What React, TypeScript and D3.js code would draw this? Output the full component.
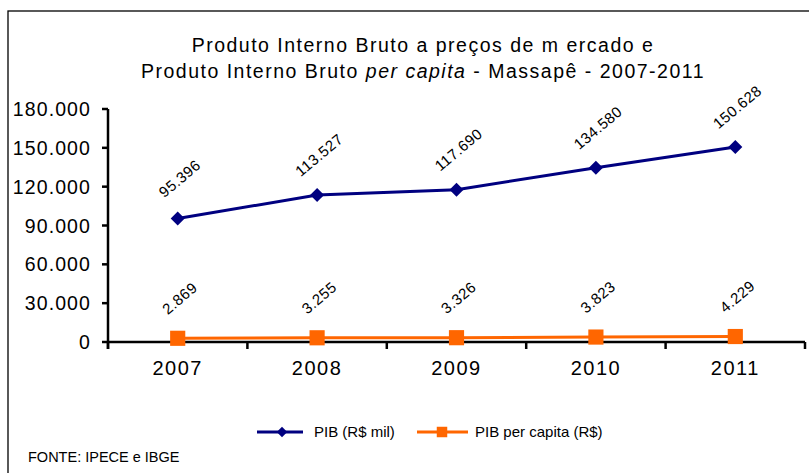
import React from "react";
import * as d3 from "d3";

// chart values
const years = ["2007", "2008", "2009", "2010", "2011"];
const pibMil = [95396, 113527, 117690, 134580, 150628];
const pibPerCapita = [2869, 3255, 3326, 3823, 4229];
const yTicks = [0, 30000, 60000, 90000, 120000, 150000, 180000];

const titleLine1 = "Produto Interno Bruto a preços de m ercado  e";
const source = "FONTE: IPECE e IBGE";

const locale = d3.formatLocale({
  decimal: ",",
  thousands: ".",
  grouping: [3],
  currency: ["R$", ""],
});
const fmt = locale.format(",d");

const NAVY = "#000080";
const ORANGE = "#FF6600";
const FONT = "'Liberation Sans', Arial, sans-serif";

export default function App() {
  const width = 809;
  const height = 473;
  const plot = { left: 108, right: 805, top: 109, bottom: 342 };

  const x = d3
    .scaleBand<string>()
    .domain(years)
    .range([plot.left, plot.right])
    .padding(0);
  const cx = (y: string) => (x(y) as number) + x.bandwidth() / 2;

  const y = d3.scaleLinear().domain([0, 180000]).range([plot.bottom, plot.top]);

  const line = d3
    .line<number>()
    .x((_, i) => cx(years[i]))
    .y((d) => y(d));

  const diamond = d3.symbol().type(d3.symbolDiamond2).size(125);
  const square = d3.symbol().type(d3.symbolSquare).size(230);

  const boundaries = [plot.left, ...years.map((yr) => (x(yr) as number) + x.bandwidth())];

  const series = [
    { values: pibMil, color: NAVY, marker: diamond() as string },
    { values: pibPerCapita, color: ORANGE, marker: square() as string },
  ];

  return (
    <svg
      width={width}
      height={height}
      style={{ position: "absolute", left: 0, top: 0, background: "#fff" }}
      fontFamily={FONT}
    >
      {/* outer frame */}
      <rect x={8} y={11} width={width + 10} height={height + 10} fill="none" stroke="#000" strokeWidth={1.3} />

      {/* title */}
      <g fontSize={19.5} letterSpacing={1.5} fill="#000" style={{ whiteSpace: "pre" }}>
        <text x={423} y={52} textAnchor="middle">
          {titleLine1}
        </text>
        <text x={423} y={78} textAnchor="middle">
          Produto Interno Bruto <tspan fontStyle="italic">per capita</tspan> - Massapê - 2007-2011
        </text>
      </g>

      {/* y axis */}
      <g>
        <line x1={plot.left} x2={plot.left} y1={plot.top} y2={plot.bottom + 7} stroke="#000" strokeWidth={2.5} />
        {yTicks.map((t) => (
          <g key={t}>
            <line x1={plot.left - 6} x2={plot.left} y1={y(t)} y2={y(t)} stroke="#000" strokeWidth={2.5} />
            <text x={91} y={y(t)} dy="0.36em" textAnchor="end" fontSize={19.5} letterSpacing={1.1} fill="#000">
              {fmt(t)}
            </text>
          </g>
        ))}
      </g>

      {/* x axis */}
      <g>
        <line x1={plot.left} x2={plot.right} y1={plot.bottom} y2={plot.bottom} stroke="#000" strokeWidth={2.5} />
        {boundaries.map((b, i) => (
          <line key={i} x1={b} x2={b} y1={plot.bottom} y2={plot.bottom + 7} stroke="#000" strokeWidth={2.5} />
        ))}
        {years.map((yr) => (
          <text key={yr} x={cx(yr)} y={375} textAnchor="middle" fontSize={20} letterSpacing={1.5} fill="#000">
            {yr}
          </text>
        ))}
      </g>

      {/* series */}
      {series.map((s, si) => (
        <g key={si}>
          <path d={line(s.values) as string} fill="none" stroke={s.color} strokeWidth={3} />
          {s.values.map((v, i) => (
            <path key={i} d={s.marker} transform={`translate(${cx(years[i])},${y(v)})`} fill={s.color} />
          ))}
          {s.values.map((v, i) => (
            <text
              key={"l" + i}
              transform={`translate(${cx(years[i]) + 2},${y(v) - 40}) rotate(-40)`}
              textAnchor="middle"
              dy="0.35em"
              fontSize={15}
              letterSpacing={0.5}
              fill="#000"
            >
              {fmt(v)}
            </text>
          ))}
        </g>
      ))}

      {/* legend */}
      <g fontSize={15} fill="#000">
        <line x1={257} x2={303} y1={432} y2={432} stroke={NAVY} strokeWidth={3} />
        <path d={d3.symbol().type(d3.symbolDiamond2).size(70)() as string} transform="translate(282,432)" fill={NAVY} />
        <text x={314} y={432} dy="0.35em">PIB (R$ mil)</text>
        <line x1={417} x2={468} y1={432} y2={432} stroke={ORANGE} strokeWidth={3} />
        <path d={d3.symbol().type(d3.symbolSquare).size(110)() as string} transform="translate(442,432)" fill={ORANGE} />
        <text x={475} y={432} dy="0.35em">PIB per capita (R$)</text>
      </g>

      {/* source */}
      <text x={28} y={457} dy="0.35em" fontSize={14.5} fill="#000">
        {source}
      </text>
    </svg>
  );
}
